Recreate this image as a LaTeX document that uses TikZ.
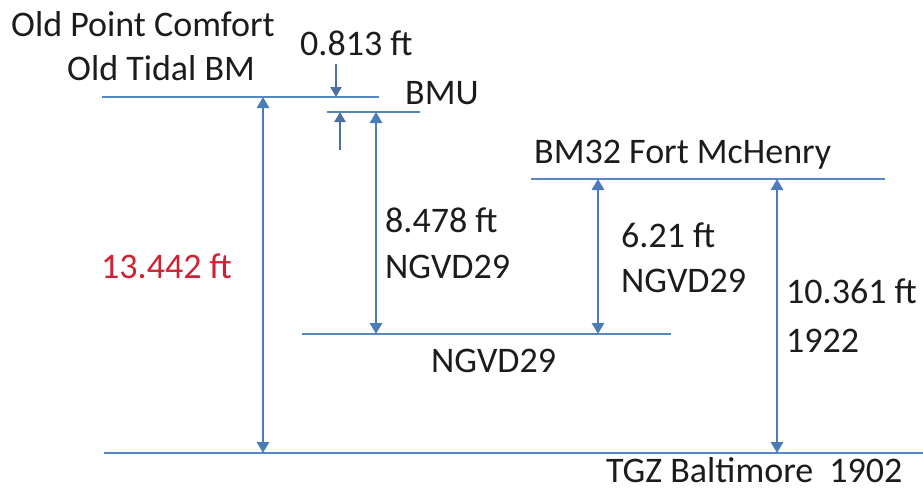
\documentclass[tikz,border=0pt]{standalone}
\usepackage{fontspec}
\setmainfont{Carlito}
\usetikzlibrary{arrows.meta}
\definecolor{lvl}{RGB}{88,134,190}
\definecolor{arr}{RGB}{74,124,184}
\definecolor{smallarr}{RGB}{78,112,160}
\definecolor{txt}{RGB}{28,28,28}
\definecolor{redt}{RGB}{208,34,52}
\begin{document}
\begin{tikzpicture}[x=1pt,y=-1pt,
  level/.style={draw=lvl,line width=1.7pt},
  dim/.style={draw=arr,line width=2.8pt,{Triangle[width=12pt,length=11pt]}-{Triangle[width=12pt,length=11pt]}},
  tick/.style={draw=smallarr,line width=2.5pt,-{Triangle[width=11pt,length=10pt]}},
  lbl/.style={anchor=base west,inner sep=0pt,text=txt,font=\fontsize{36}{43}\selectfont}]
\useasboundingbox (0,0) rectangle (923,493);
% levels
\draw[level] (102,97) -- (379,97);
\draw[level] (327,112) -- (420,112);
\draw[level] (531,179) -- (885,179);
\draw[level] (302,334) -- (671,334);
\draw[level] (104,453) -- (923,453);
% coordinates
\coordinate (aT) at (263,97);  \coordinate (aB) at (263,453);
\coordinate (bT) at (376,112); \coordinate (bB) at (376,334);
\coordinate (cT) at (598,179); \coordinate (cB) at (598,334);
\coordinate (dT) at (777,179); \coordinate (dB) at (777,453);
\coordinate (eS) at (336,64);  \coordinate (eE) at (336,97);
\coordinate (fS) at (340,150); \coordinate (fE) at (340,112);
% arrows
\draw[dim] (aT) -- (aB);
\draw[dim] (bT) -- (bB);
\draw[dim] (cT) -- (cB);
\draw[dim] (dT) -- (dB);
\draw[tick] (eS) -- (eE);
\draw[tick] (fS) -- (fE);
% labels
\node[lbl] (t1) at (11,36) {Old Point Comfort};
\node[lbl] (t2) at (67,80) {Old Tidal BM};
\node[lbl] (t3) at (300,55) {0.813 ft};
\node[lbl] (t4) at (405,104) {BMU};
\node[lbl] (t5) at (534,163) {BM32 Fort McHenry};
\node[lbl] (t6) at (385,232) {8.478 ft};
\node[lbl] (t7) at (385,278) {NGVD29};
\node[lbl] (t8) at (621,247) {6.21 ft};
\node[lbl] (t9) at (621,292) {NGVD29};
\node[lbl] (t10) at (786,303) {10.361 ft};
\node[lbl] (t11) at (786,352) {1922};
\node[lbl,text=redt] (t12) at (101,278) {13.442 ft};
\node[lbl] (t13) at (431,372) {NGVD29};
\node[lbl] (t14) at (606,482) {TGZ Baltimore\hspace{0.45em}1902};
\end{tikzpicture}
\end{document}
